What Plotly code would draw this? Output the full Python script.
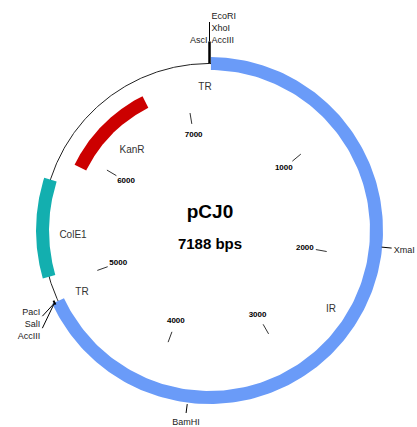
import numpy as np
import plotly.graph_objects as go

# ---- plasmid data -------------------------------------------------------
PLASMID_NAME = "pCJ0"
TOTAL_BP = 7188

# annotated regions drawn as arcs (bp start, bp end)
feature_names = ["TR-IR", "ColE1", "KanR"]
feature_start = [10, 5070, 5910]
feature_end = [4893, 5745, 6659]
feature_colors = ["#6a9bf8", "#13afaf", "#cc0000"]
feature_track = [1.0, 1.0, 0.86]          # track radius relative to backbone

# text labels for the regions (bp position, radius relative to backbone)
region_labels = ["TR", "KanR", "ColE1", "TR", "IR"]
region_label_bp = [7152, 6311, 5345, 4870, 2454]
region_label_r = [0.854, 0.669, 0.818, 0.850, 0.866]

# inner scale ticks
scale_bp = [1000, 2000, 3000, 4000, 5000, 6000, 7000]
scale_labels = ["1000", "2000", "3000", "4000", "5000", "6000", "7000"]

# restriction sites: (group bp, names)
site_groups_bp = [0, 1907, 3740, 4893]
site_groups_names = [
    ["EcoRI", "XhoI", "AccIII", "AscI"],
    ["XmaI"],
    ["BamHI"],
    ["PacI", "SalI", "AccIII"],
]

# ---- geometry (pixels) --------------------------------------------------
W, H = 417, 427
CX, CY, R = 209.5, 230.5, 167.0
BAND = 13.0
FONT = "Liberation Sans, Arial, sans-serif"


def bp_to_theta(bp):
    return np.asarray(bp, dtype=float) / TOTAL_BP * 2 * np.pi


def polar_xy(bp, r):
    t = bp_to_theta(bp)
    return CX + r * np.sin(t), CY - r * np.cos(t)


fig = go.Figure()

# backbone
bb = np.linspace(0, TOTAL_BP, 721)
bx, by = polar_xy(bb, R)
fig.add_trace(go.Scatter(x=bx, y=by, mode="lines",
                         line=dict(color="#222222", width=1), hoverinfo="skip"))

# feature arcs
for name, s, e, c, tr in zip(feature_names, feature_start, feature_end,
                             feature_colors, feature_track):
    pts = np.linspace(s, e, 200)
    rc = R * tr
    ox, oy = polar_xy(pts, rc + BAND / 2)
    ix, iy = polar_xy(pts[::-1], rc - BAND / 2)
    fig.add_trace(go.Scatter(x=np.r_[ox, ix, ox[0]], y=np.r_[oy, iy, oy[0]],
                             mode="lines", fill="toself", fillcolor=c,
                             line=dict(width=0, color=c), name=name,
                             hoverinfo="name"))

# scale ticks and numbers
for bp, lab in zip(scale_bp, scale_labels):
    tx, ty = polar_xy([bp, bp], np.array([R * 0.647, R * 0.713]))
    fig.add_trace(go.Scatter(x=tx, y=ty, mode="lines",
                             line=dict(color="#333333", width=1), hoverinfo="skip"))
    lx, ly = polar_xy(bp, R * 0.58)
    fig.add_trace(go.Scatter(x=[lx], y=[ly], mode="text", text=[lab],
                             textfont=dict(family=FONT, size=8, color="black",
                                           weight="bold"),
                             textposition="middle center", hoverinfo="skip"))

# region labels
rlx, rly = polar_xy(region_label_bp, R * np.array(region_label_r))
fig.add_trace(go.Scatter(x=rlx, y=rly, mode="text", text=region_labels,
                         textfont=dict(family=FONT, size=10, color="#333333"),
                         textposition="middle center", hoverinfo="skip"))


def add_text(x, y, txt, pos, size=9):
    fig.add_trace(go.Scatter(x=[x], y=[y], mode="text", text=[txt],
                             textfont=dict(family=FONT, size=size, color="#222222"),
                             textposition=pos, hoverinfo="skip", cliponaxis=True))


def add_line(xs, ys, width=1):
    fig.add_trace(go.Scatter(x=xs, y=ys, mode="lines",
                             line=dict(color="black", width=width), hoverinfo="skip"))


# site group at the origin: tall tick with stacked names
g0 = site_groups_bp[0]
x0, y0 = polar_xy([g0, g0], np.array([R, R + 22]))
add_line(x0, y0, width=2.5)
x1, y1 = polar_xy([g0, g0], np.array([R + 22, R + 41.5]))
add_line(x1, y1, width=1)
tx, ty = x1[1], y1[1]
n = site_groups_names[0]
add_text(tx + 2, ty - 5, n[0], "middle right")
add_text(tx + 2, ty + 7, n[1], "middle right")
add_text(tx + 2, ty + 19, n[2], "middle right")
add_text(tx - 2, ty + 19, n[3], "middle left")

# XmaI
g = site_groups_bp[1]
x1, y1 = polar_xy([g, g], np.array([R + 6, R + 16]))
add_line(x1, y1)
add_text(x1[1] + 2, y1[1] + 3, site_groups_names[1][0], "middle right")

# BamHI
g = site_groups_bp[2]
x1, y1 = polar_xy([g, g], np.array([R + 8, R + 17]))
add_line(x1, y1)
add_text(x1[1], y1[1] + 10, site_groups_names[2][0], "middle center")

# PacI / SalI / AccIII with leader lines
g = site_groups_bp[3]
sx, sy = polar_xy(g, R + 3)
lab_x = sx - 15
for i, nm in enumerate(site_groups_names[3]):
    ly = sy + 11 + 12 * i
    if i < 2:
        add_line([lab_x + 2, sx - 1], [ly + 3, sy + 1])
    add_text(lab_x, ly, nm, "middle left")
mx, my = polar_xy([g - 15, g + 15], np.array([R + 4, R + 4]))
add_line(mx, my, width=2)

# centre title
fig.add_trace(go.Scatter(x=[CX + 0.5], y=[CY - 17], mode="text", text=[PLASMID_NAME],
                         textfont=dict(family=FONT, size=19, color="black", weight="bold"),
                         textposition="middle center", hoverinfo="skip"))
fig.add_trace(go.Scatter(x=[CX + 0.5], y=[CY + 15], mode="text",
                         text=[f"{TOTAL_BP} bps"],
                         textfont=dict(family=FONT, size=15, color="black", weight="bold"),
                         textposition="middle center", hoverinfo="skip"))

fig.update_layout(
    width=W, height=H, autosize=False,
    margin=dict(l=0, r=0, t=0, b=0),
    paper_bgcolor="white", plot_bgcolor="white",
    showlegend=False,
    xaxis=dict(range=[0, W], visible=False, fixedrange=True),
    yaxis=dict(range=[H, 0], visible=False, fixedrange=True),
)

fig.write_html("out.html")
